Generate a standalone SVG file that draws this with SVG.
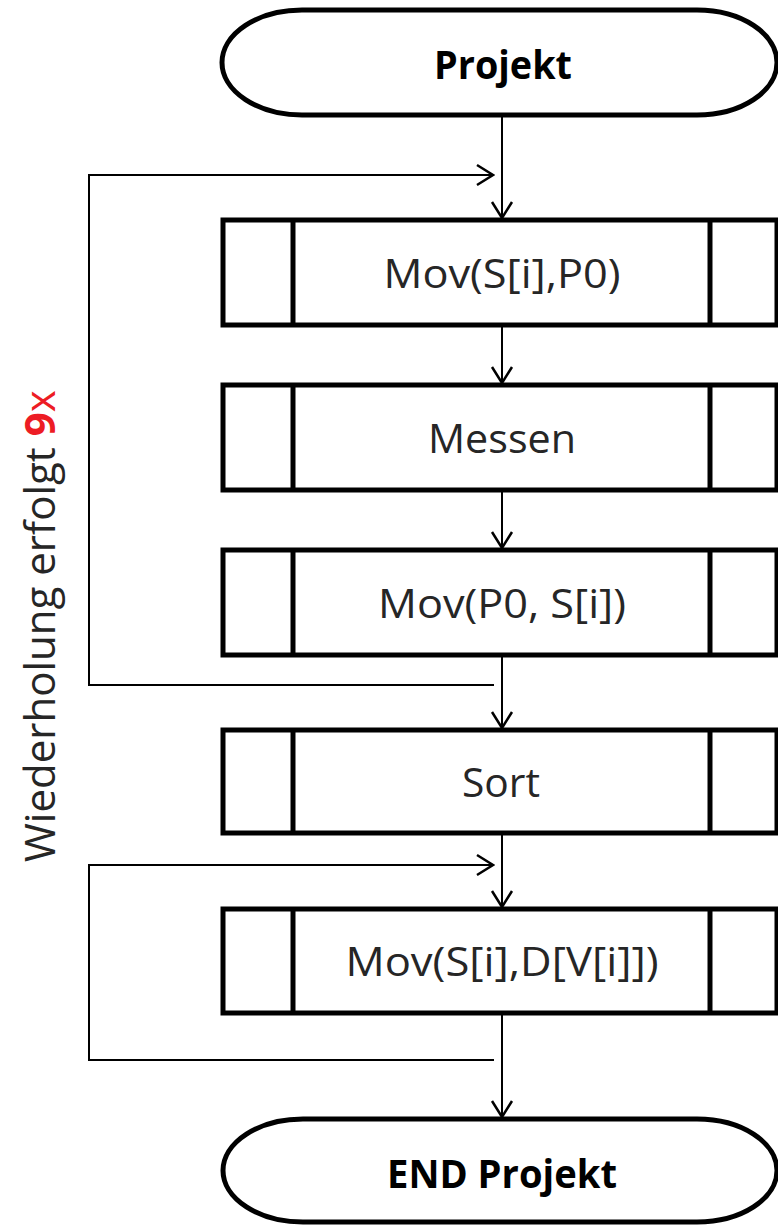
<svg xmlns="http://www.w3.org/2000/svg" width="778" height="1226" viewBox="0 0 778 1226">
  <style>
    .term { fill: #ffffff; stroke: #000000; stroke-width: 5; }
    .box { fill: #ffffff; stroke: #000000; stroke-width: 5; }
    .div { stroke: #000000; stroke-width: 5; }
    .conn { fill: none; stroke: #000000; stroke-width: 2; }
    .lbl { font-family: "Open Sans", "Noto Sans", sans-serif; font-size: 40px; fill: #262626; text-anchor: middle; }
    .ttl { font-family: "Open Sans", "Noto Sans", sans-serif; font-size: 39px; font-weight: bold; fill: #000000; text-anchor: middle; }
    .rot { font-family: "Open Sans", "Noto Sans", sans-serif; font-size: 42px; fill: #262626; }
    .red { fill: #ed1c24; }
  </style>
  <defs>
    <marker id="arrow" markerUnits="userSpaceOnUse" viewBox="0 0 20 24" refX="18" refY="12" markerWidth="20" markerHeight="24" orient="auto">
      <path d="M2,2 L18,12 L2,22" fill="none" stroke="#000000" stroke-width="2.5"/>
    </marker>
  </defs>

  <rect width="778" height="1226" fill="#ffffff"/>

  <g id="connectors">
    <line class="conn" x1="502" y1="117" x2="502" y2="218" marker-end="url(#arrow)"/>
    <line class="conn" x1="502" y1="327" x2="502" y2="383" marker-end="url(#arrow)"/>
    <line class="conn" x1="502" y1="492" x2="502" y2="548" marker-end="url(#arrow)"/>
    <line class="conn" x1="502" y1="657" x2="502" y2="728" marker-end="url(#arrow)"/>
    <line class="conn" x1="502" y1="835" x2="502" y2="907" marker-end="url(#arrow)"/>
    <line class="conn" x1="502" y1="1015" x2="502" y2="1117" marker-end="url(#arrow)"/>
    <path class="conn" d="M494,685 L89,685 L89,175 L493,175" marker-end="url(#arrow)"/>
    <path class="conn" d="M494,1060 L89,1060 L89,865 L493,865" marker-end="url(#arrow)"/>
  </g>

  <g id="start">
    <path class="term" d="M302,10 L697,10 A80,52.5 0 0 1 697,115 L302,115 A80,52.5 0 0 1 302,10 Z"/>
    <text class="ttl" x="503" y="79" textLength="138" lengthAdjust="spacingAndGlyphs">Projekt</text>
  </g>

  <g id="mov1">
    <rect class="box" x="223" y="220" width="554" height="105"/>
    <line class="div" x1="293" y1="220" x2="293" y2="325"/>
    <line class="div" x1="710" y1="220" x2="710" y2="325"/>
    <text class="lbl" x="502" y="288" textLength="237" lengthAdjust="spacingAndGlyphs">Mov(S[i],P0)</text>
  </g>

  <g id="messen">
    <rect class="box" x="223" y="385" width="554" height="105"/>
    <line class="div" x1="293" y1="385" x2="293" y2="490"/>
    <line class="div" x1="710" y1="385" x2="710" y2="490"/>
    <text class="lbl" x="502" y="453" textLength="148" lengthAdjust="spacingAndGlyphs">Messen</text>
  </g>

  <g id="mov2">
    <rect class="box" x="223" y="550" width="554" height="105"/>
    <line class="div" x1="293" y1="550" x2="293" y2="655"/>
    <line class="div" x1="710" y1="550" x2="710" y2="655"/>
    <text class="lbl" x="502" y="618" textLength="248" lengthAdjust="spacingAndGlyphs">Mov(P0, S[i])</text>
  </g>

  <g id="sort">
    <rect class="box" x="223" y="730" width="554" height="103"/>
    <line class="div" x1="293" y1="730" x2="293" y2="833"/>
    <line class="div" x1="710" y1="730" x2="710" y2="833"/>
    <text class="lbl" x="501" y="797" textLength="78" lengthAdjust="spacingAndGlyphs">Sort</text>
  </g>

  <g id="mov3">
    <rect class="box" x="223" y="909" width="554" height="104"/>
    <line class="div" x1="293" y1="909" x2="293" y2="1013"/>
    <line class="div" x1="710" y1="909" x2="710" y2="1013"/>
    <text class="lbl" x="502" y="976" textLength="313" lengthAdjust="spacingAndGlyphs">Mov(S[i],D[V[i]])</text>
  </g>

  <g id="end">
    <path class="term" d="M303,1119 L697,1119 A80,51.5 0 0 1 697,1222 L303,1222 A80,51.5 0 0 1 303,1119 Z"/>
    <text class="ttl" x="502" y="1188" textLength="230" lengthAdjust="spacingAndGlyphs">END Projekt</text>
  </g>

  <g id="loop-label">
    <text class="rot" transform="translate(55,862) rotate(-90)">Wiederholung erfolgt <tspan class="red" font-weight="bold">9</tspan><tspan class="red">x</tspan></text>
  </g>
</svg>
